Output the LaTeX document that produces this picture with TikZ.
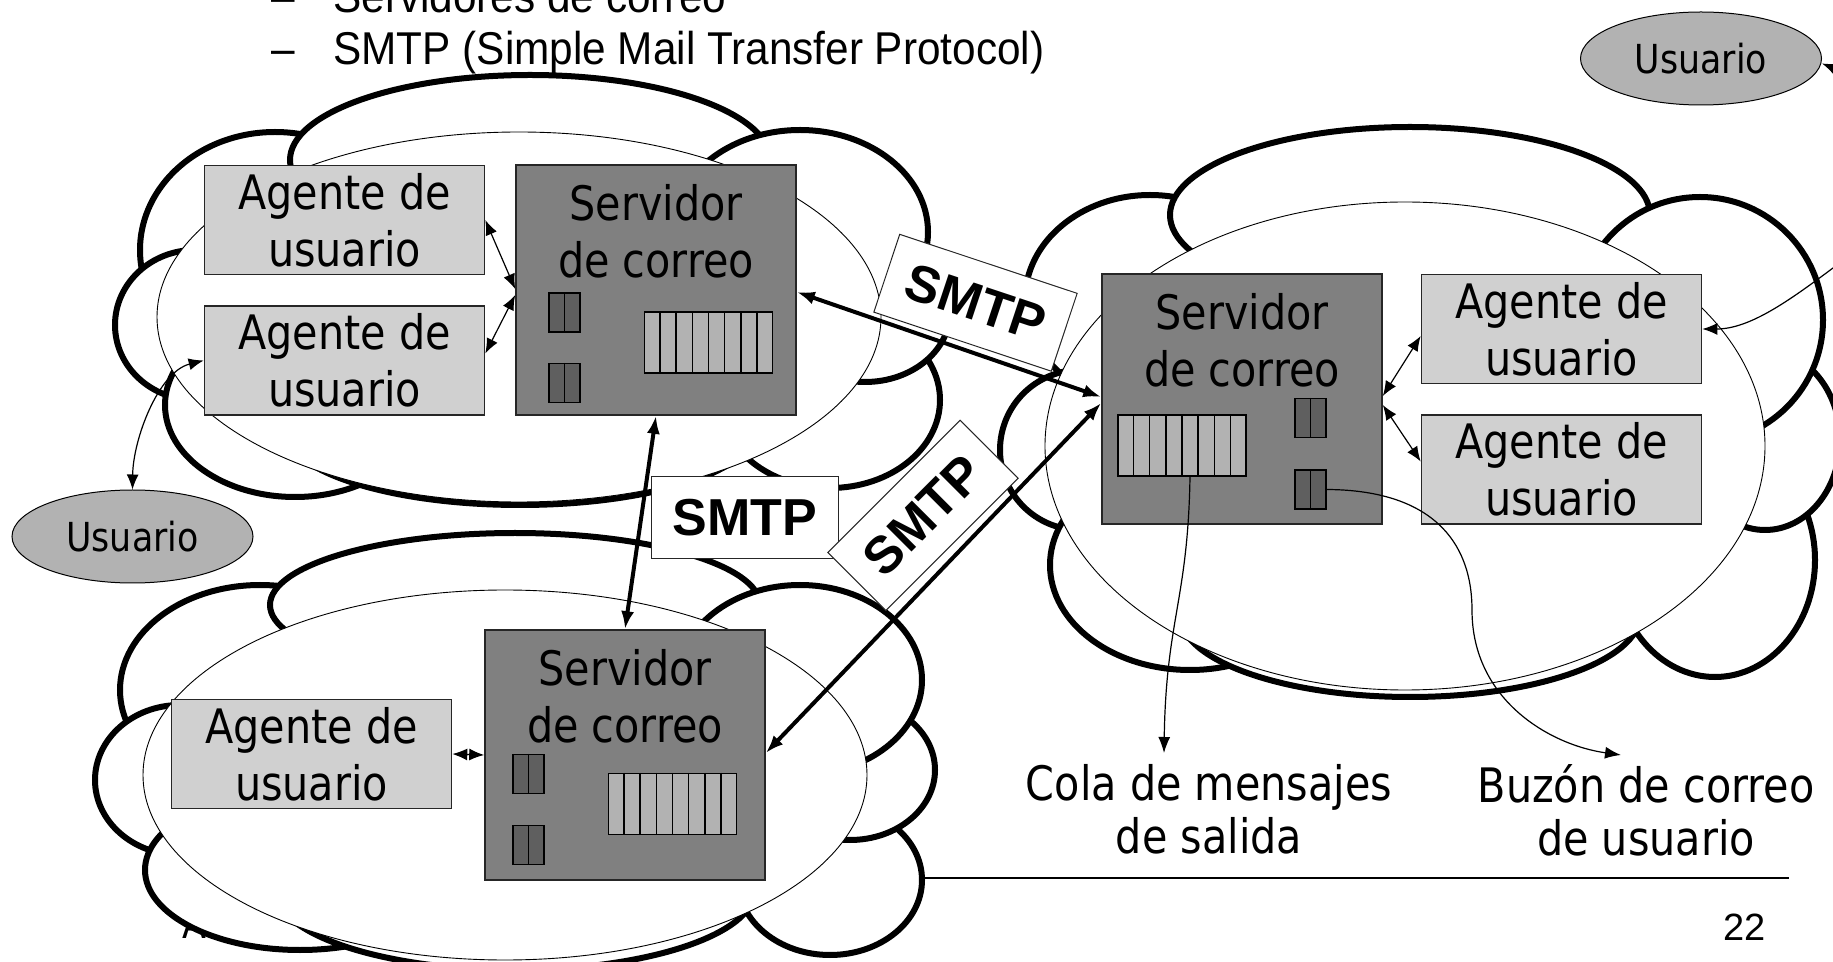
\documentclass[tikz,border=0pt]{standalone}
\usepackage{fontspec}
\setmainfont{Liberation Sans}
\newfontfamily\tahfont{DejaVu Sans}[FakeStretch=0.87]
\newfontfamily\hdfont{Liberation Sans}[FakeStretch=0.92]
\usetikzlibrary{arrows.meta,calc,shapes.geometric}

\definecolor{agentfill}{HTML}{D0D0D0}
\definecolor{serverfill}{HTML}{808080}
\definecolor{slotfill}{HTML}{5F5F5F}
\definecolor{queuefill}{HTML}{B2B2B2}
\definecolor{userfill}{HTML}{B2B2B2}
\definecolor{boxedge}{HTML}{262626}

\newcommand\mbfont{\tahfont\fontsize{23.75pt}{28.5pt}\selectfont}
\newcommand\mlfont{\tahfont\fontsize{23.75pt}{26.5pt}\selectfont}
\newcommand\mufont{\tahfont\fontsize{20pt}{24pt}\selectfont}
\newcommand\msfont{\bfseries\fontsize{26pt}{30pt}\selectfont}
\newcommand\mhfont{\hdfont\fontsize{23pt}{26pt}\selectfont}

% one bump of a cloud outline
\newcommand\cloudbump[4]{\draw[bumpline] (#1,#2) ellipse [x radius=#3, y radius=#4];}
% outgoing message queue: a box split into eight cells
\newcommand\msgqueue[2]{%
  \node[queuebox] (#1) at (#2) {};
  \foreach \k in {1,...,7}
    \draw[cellline] ($(#1.north west)!\k/8!(#1.north east)$) -- ($(#1.south west)!\k/8!(#1.south east)$);
}
% mailbox slot: a small box split in two
\newcommand\mslot[2]{\node[slotbox] (#1) at (#2) {}; \draw[cellline] (#1.north) -- (#1.south);}

\begin{document}
\begin{tikzpicture}[x=0.5pt,y=-0.5pt,
  bumpline/.style={draw=black, fill=white, line width=3pt},
  coreline/.style={draw=black, fill=white, line width=0.45pt},
  agent/.style={rectangle, draw=boxedge, line width=0.8pt, fill=agentfill, minimum width=140pt, minimum height=54.5pt, inner sep=0pt, align=center, font=\mbfont},
  server/.style={rectangle, draw=boxedge, line width=0.8pt, fill=serverfill, minimum width=140pt, minimum height=125pt, inner sep=0pt},
  srvlabel/.style={anchor=north, inner sep=0pt, align=center, font=\mbfont},
  queuebox/.style={rectangle, draw=black, line width=0.7pt, fill=queuefill, minimum width=64pt, minimum height=30.5pt, inner sep=0pt},
  slotbox/.style={rectangle, draw=black, line width=0.7pt, fill=slotfill, minimum width=15.5pt, minimum height=19.5pt, inner sep=0pt},
  cellline/.style={line width=0.7pt},
  user/.style={ellipse, draw=black, line width=0.5pt, fill=userfill, minimum width=120.5pt, minimum height=46.5pt, inner sep=0pt, font=\mufont},
  smtpbox/.style={rectangle, draw=boxedge, line width=0.5pt, fill=white, minimum width=93.5pt, minimum height=41pt, inner sep=0pt, font=\msfont},
  smtplink/.style={line width=2pt, {Latex[length=9pt,width=6.5pt]}-{Latex[length=9pt,width=6.5pt]}},
  ualink/.style={line width=0.6pt, {Latex[length=7.5pt,width=6pt]}-{Latex[length=7.5pt,width=6pt]}},
  pointer/.style={line width=0.6pt, -{Latex[length=8pt,width=6pt]}},
  note/.style={anchor=north, inner sep=0pt, align=center, font=\mlfont}]

\useasboundingbox (0,0) rectangle (1833,962);
\clip (0,0) rectangle (1833,962);

% footer rule, page number and footer text
\draw[line width=1pt] (700,878) -- (1789,878);
\node[anchor=base east, inner sep=0pt, font=\fontsize{19pt}{22pt}\selectfont] (pg) at (1766,940) {22};
\node[anchor=base west, inner sep=0pt, font=\mufont] (ft) at (182,938) {A};

% upper left network
\cloudbump{275}{250}{135}{118}
\cloudbump{195}{325}{80}{75}
\cloudbump{295}{405}{130}{92}
\cloudbump{520}{430}{235}{75}
\cloudbump{830}{400}{110}{88}
\cloudbump{865}{312}{85}{70}
\cloudbump{530}{160}{240}{85}
\cloudbump{800}{232}{128}{102}
\draw[coreline] (519,317) ellipse [x radius=362, y radius=185];

% right network
\cloudbump{1150}{300}{125}{105}
\cloudbump{1080}{450}{80}{80}
\cloudbump{1190}{565}{140}{105}
\cloudbump{1410}{615}{230}{82}
\cloudbump{1715}{560}{100}{117}
\cloudbump{1765}{440}{75}{90}
\cloudbump{1410}{215}{240}{88}
\cloudbump{1700}{320}{123}{123}
\draw[coreline] (1405,446) ellipse [x radius=360, y radius=244];

% lower left network
\cloudbump{260}{690}{140}{105}
\cloudbump{180}{780}{85}{75}
\cloudbump{300}{870}{155}{80}
\cloudbump{515}{890}{240}{80}
\cloudbump{830}{880}{92}{75}
\cloudbump{850}{770}{85}{70}
\cloudbump{515}{605}{245}{72}
\cloudbump{800}{680}{122}{95}
\draw[coreline] (505,775) ellipse [x radius=362, y radius=185];

% heading bullets
\node[anchor=base west, inner sep=0pt, font=\mhfont] (hd1) at (271,13) {–};
\node[anchor=base west, inner sep=0pt, font=\mhfont] (ht1) at (333,13) {Servidores de correo};
\node[anchor=base west, inner sep=0pt, font=\mhfont] (hd2) at (271,65) {–};
\node[anchor=base west, inner sep=0pt, font=\mhfont] (ht2) at (333,65) {SMTP (Simple Mail Transfer Protocol)};

% user agents
\node[agent] (a1) at (344.5,220) {Agente de\\usuario};
\node[agent] (a2) at (344.5,360.5) {Agente de\\usuario};
\node[agent] (a3) at (1561.5,329) {Agente de\\usuario};
\node[agent] (a4) at (1561.5,469.5) {Agente de\\usuario};
\node[agent] (a5) at (311.5,754) {Agente de\\usuario};

% mail servers
\node[server] (s1) at (656,290) {};
\node[srvlabel] (s1t) at (656,184) {Servidor\\de correo};
\mslot{m11}{564.5,312.5}
\mslot{m12}{564.5,383}
\msgqueue{q1}{708.5,342.5}

\node[server] (s2) at (1242,399) {};
\node[srvlabel] (s2t) at (1242,293) {Servidor\\de correo};
\mslot{m21}{1310.5,418}
\mslot{m22}{1310.5,489.5}
\msgqueue{q2}{1182,445.5}

\node[server] (s3) at (625,755) {};
\node[srvlabel] (s3t) at (625,649) {Servidor\\de correo};
\mslot{m31}{528.5,774}
\mslot{m32}{528.5,845}
\msgqueue{q3}{672.5,804}

% users
\node[user] (u1) at (132.5,536.5) {Usuario};
\node[user] (u2) at (1701,58.5) {Usuario};

% protocol labels
\node[smtpbox] (p1) at (745,518) {SMTP};
\node[smtpbox, rotate=-18.4] (p2) at (975.5,302.75) {SMTP};
\node[smtpbox, rotate=45] (p3) at (923,515.4) {SMTP};

% captions
\node[note] (l1) at (1209,764) {Cola de mensajes\\de salida};
\node[note] (l2) at (1646,764) {Buzón de correo\\de usuario};
\coordinate (t1) at (1164,753);
\coordinate (t2) at (1621,755);

% agent to server links
\draw[ualink] (a1.east) -- ($(s1.west)+(0,-1)$);
\draw[ualink] ($(a2.east)+(0,-7)$) -- ($(s1.west)+(0,5)$);
\draw[ualink] ($(s2.east)+(0,-3)$) -- ($(a3.west)+(0,7)$);
\draw[ualink] ($(s2.east)+(0,6)$) -- ($(a4.west)+(0,-8)$);
\draw[ualink] (a5.east) -- (s3.west);

% users to agents
\draw[ualink] (u1.north) .. controls (133,440) and (158,372) .. (a2.west);
\draw[ualink] ($(u2.east)+(0,5)$) .. controls (1900,95) and (1905,230) .. (1833,268)
              .. controls (1790,300) and (1750,329) .. (a3.east);

% server to server transfers
\draw[smtplink] ($(s1.east)+(0,2)$) -- ($(s2.west)+(0,-2)$);
\draw[smtplink] (s1.south) -- (s3.north);
\draw[smtplink] ($(s3.east)+(0,-2)$) -- ($(s2.west)+(0,4)$);

% caption pointers
\draw[pointer] ($(q2.south)+(8,0)$) .. controls (1188,600) and (1166,620) .. (t1);
\draw[pointer] (m22.east) .. controls (1430,490) and (1472,540) .. (1472,610)
               .. controls (1472,700) and (1550,745) .. (t2);
\end{tikzpicture}
\end{document}
